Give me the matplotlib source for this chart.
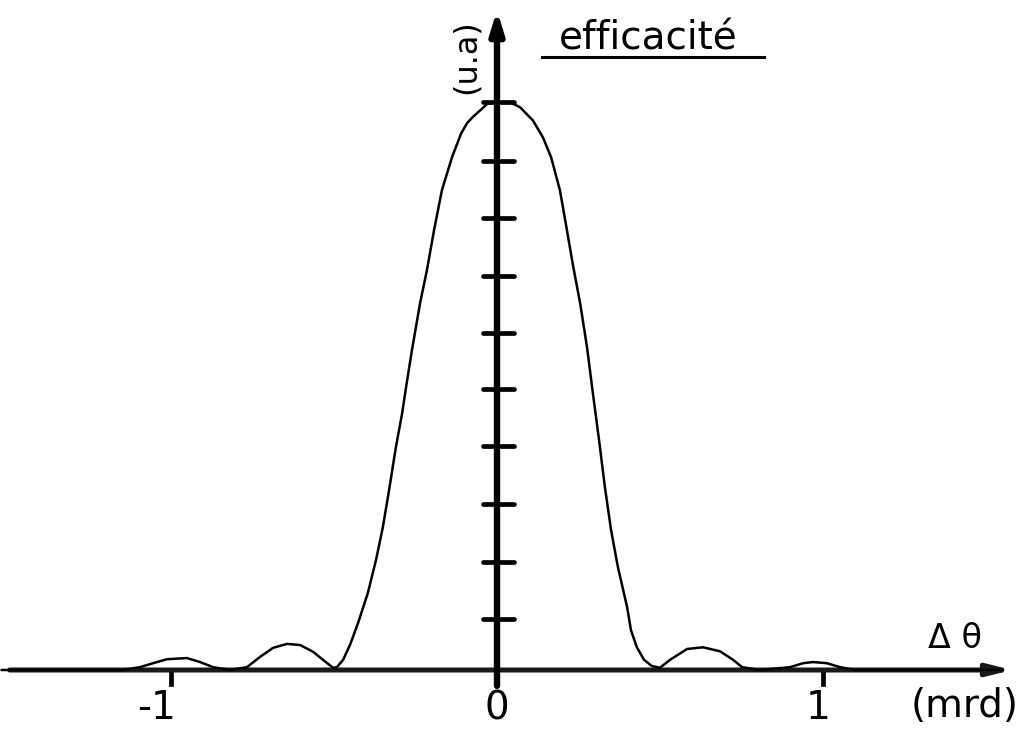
import matplotlib
matplotlib.use("Agg")
import matplotlib.pyplot as plt

# --------------------------------------------------------------------------- #
# data (x in mrd, y in units of peak efficiency)
# --------------------------------------------------------------------------- #
CURVE_X = [-1.52, -1.15, -1.095, -1.055, -1.012, -0.951, -0.911, -0.871,
           -0.819, -0.767, -0.727, -0.687, -0.644, -0.604, -0.564, -0.534,
           -0.503, -0.491, -0.472, -0.451, -0.426, -0.396, -0.371, -0.350,
           -0.331, -0.310, -0.291, -0.279, -0.261, -0.236, -0.215, -0.193,
           -0.169, -0.138, -0.110, -0.092, -0.074, -0.028, 0.0,
           0.040, 0.071, 0.110, 0.141, 0.166, 0.193, 0.212, 0.233, 0.255,
           0.276, 0.294, 0.313, 0.331, 0.350, 0.371, 0.399, 0.411, 0.429,
           0.451, 0.475, 0.500, 0.531, 0.583, 0.632, 0.684, 0.724, 0.752,
           0.807, 0.899, 0.939, 0.969, 1.012, 1.052, 1.10, 1.55]
CURVE_Y = [0.0, 0.0, 0.005, 0.012, 0.019, 0.021, 0.014, 0.005,
           0.0, 0.005, 0.023, 0.039, 0.046, 0.044, 0.032, 0.018,
           0.004, 0.005, 0.018, 0.044, 0.083, 0.136, 0.194, 0.252,
           0.317, 0.393, 0.452, 0.498, 0.563, 0.646, 0.704, 0.775,
           0.845, 0.903, 0.945, 0.963, 0.974, 0.998, 1.0,
           1.0, 0.991, 0.968, 0.938, 0.903, 0.845, 0.783, 0.713, 0.646,
           0.569, 0.488, 0.405, 0.322, 0.246, 0.181, 0.111, 0.070, 0.040,
           0.018, 0.007, 0.004, 0.018, 0.037, 0.040, 0.033, 0.018, 0.005,
           0.0, 0.005, 0.012, 0.014, 0.012, 0.005, 0.0, 0.0]

YTICK_VALS = [0.090, 0.190, 0.292, 0.394, 0.495, 0.593, 0.694, 0.796, 0.896, 1.0]
XTICK_VALS = [-1, 0, 1]
XTICK_LABELS = ["-1", "0", "1"]

# --------------------------------------------------------------------------- #
# figure : one axes filling the whole canvas, drawn by hand like the original
# --------------------------------------------------------------------------- #
W, H = 1035, 737
X0, XS = 497, 326          # pixel of x=0 and pixels per mrd
fig = plt.figure(figsize=(W / 100, H / 100), dpi=100)
ax = fig.add_axes([0, 0, 1, 1])
ax.set_xlim(-X0 / XS, (W - X0) / XS)
ax.set_ylim(-0.118, 1.18)
ax.axis("off")

INK = "black"
FONT = ["DejaVu Sans"]


def ftext(px, py, s, **kw):
    """text placed in picture pixels (origin top left)."""
    fig.text(px / W, 1 - py / H, s, family=FONT, color=INK, **kw)


# horizontal axis with arrow
ax.annotate("", xy=(1.580, 0), xytext=(-1.495, 0),
            arrowprops=dict(arrowstyle="-|>,head_length=1.4,head_width=0.35",
                            lw=3.6, color="#1a1a1a", shrinkA=0, shrinkB=0))
# vertical axis with arrow
ax.annotate("", xy=(0, 1.162), xytext=(0, -0.028),
            arrowprops=dict(arrowstyle="-|>,head_length=1.3,head_width=0.4",
                            lw=4.6, color=INK, shrinkA=0, shrinkB=0))

# y ticks : short horizontal dashes across the vertical axis
for v in YTICK_VALS:
    ax.plot([-0.042, 0.052], [v, v], color=INK, lw=3.4, solid_capstyle="round")

# x ticks : short marks under the axis
for v in XTICK_VALS:
    if v != 0:
        ax.plot([v, v], [0, -0.024], color=INK, lw=3.4)

# curve
ax.plot(CURVE_X, CURVE_Y, color=INK, lw=1.8, zorder=5,
        solid_joinstyle="round", solid_capstyle="round")

# tick labels
for v, lab in zip(XTICK_VALS, XTICK_LABELS):
    px = X0 + v * XS
    if v < 0:
        px -= 14
    elif v > 0:
        px -= 5
    ftext(px, 708, lab, fontsize=28, ha="center", va="center")

# axis titles
ftext(965, 706, "(mrd)", fontsize=28, ha="center", va="center")
ftext(955, 638, "\u0394 \u03b8", fontsize=24, ha="center", va="center")
ftext(466, 57, "(u.a)", fontsize=23, ha="center", va="center", rotation=90)
ftext(648, 38, "efficacité", fontsize=28, ha="center", va="center")
fig.add_artist(plt.Line2D([542 / W, 764 / W], [1 - 57 / H, 1 - 57 / H],
                          color=INK, lw=2.2, transform=fig.transFigure))

fig.savefig("out.png", dpi=100, facecolor="white")
